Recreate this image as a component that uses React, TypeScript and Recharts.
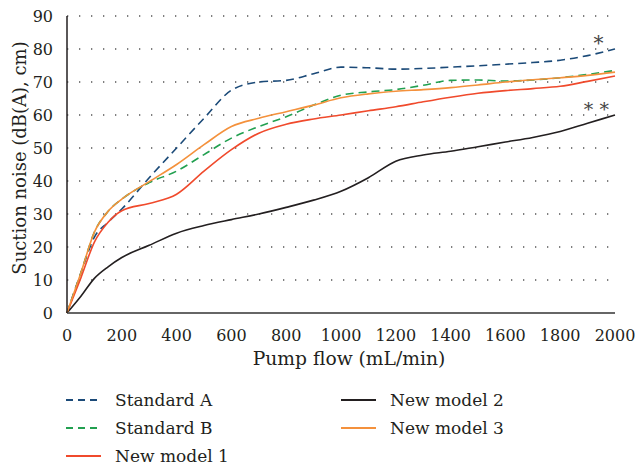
import React from 'react';
import { LineChart, Line, XAxis, YAxis, CartesianGrid, Legend, ReferenceDot } from 'recharts';

const flow = [0, 50, 100, 150, 200, 300, 400, 500, 600, 700, 800, 900, 1000, 1100, 1200, 1300, 1400, 1500, 1600, 1700, 1800, 1900, 2000];
const standardA = [0, 12, 23, 27.5, 31.5, 41, 50, 59, 67.5, 70, 70.5, 72.5, 74.5, 74.3, 73.9, 74.1, 74.5, 74.9, 75.4, 75.9, 76.6, 78, 80];
const standardB = [0, 12, 24.5, 30.8, 34.5, 39.5, 43, 48, 53, 56.5, 59.5, 63, 66, 67, 67.7, 69, 70.5, 70.6, 70.3, 70.6, 71.3, 72.3, 73.5];
const newModel1 = [0, 10.5, 21.5, 27.5, 31, 33.2, 36, 43, 49.5, 54.5, 57.2, 58.8, 60, 61.3, 62.5, 64, 65.4, 66.6, 67.4, 68, 68.7, 70.2, 71.8];
const newModel2 = [0, 5, 10.5, 14, 16.8, 20.5, 24.2, 26.5, 28.3, 30, 32, 34.2, 36.9, 41, 46, 47.9, 49, 50.4, 51.8, 53.2, 55, 57.5, 60];
const newModel3 = [0, 12, 24.5, 30.8, 34.5, 39.8, 45, 51, 56.5, 59, 61, 63, 65.2, 66.4, 67.2, 67.7, 68.3, 69.1, 70, 70.7, 71.3, 72, 73];

const xTicks = [0, 200, 400, 600, 800, 1000, 1200, 1400, 1600, 1800, 2000];
const yTicks = [0, 10, 20, 30, 40, 50, 60, 70, 80, 90];

const data = flow.map((f, i) => ({
  flow: f,
  a: standardA[i],
  b: standardB[i],
  m1: newModel1[i],
  m2: newModel2[i],
  m3: newModel3[i],
}));

const FONT = '"DejaVu Serif", serif';
const TEXT = '#231f20';

const series = [
  { key: 'a', name: 'Standard A', color: '#1b4a78', dash: '8 5', col: 0, row: 0 },
  { key: 'b', name: 'Standard B', color: '#22a050', dash: '8 5', col: 0, row: 1 },
  { key: 'm1', name: 'New model 1', color: '#f04a2c', dash: undefined, col: 0, row: 2 },
  { key: 'm2', name: 'New model 2', color: '#231f20', dash: undefined, col: 1, row: 0 },
  { key: 'm3', name: 'New model 3', color: '#f4913c', dash: undefined, col: 1, row: 1 },
];

const legendColX = [66, 341];
const legendRowY = [24, 52, 80];

const renderLegend = () => (
  <div style={{ position: 'relative', width: 635, height: 90, fontFamily: FONT, fontSize: 17, color: TEXT }}>
    {series.map((s) => (
      <div key={s.key} style={{ position: 'absolute', left: legendColX[s.col], top: legendRowY[s.row] - 13, height: 26, display: 'flex', alignItems: 'center', whiteSpace: 'nowrap' }}>
        <svg width={36} height={10} style={{ marginRight: 13 }}>
          <line x1={0} y1={5} x2={35} y2={5} stroke={s.color} strokeWidth={2} strokeDasharray={s.dash ? '7 5' : undefined} />
        </svg>
        <span>{s.name}</span>
      </div>
    ))}
  </div>
);

const YLabel = () => {
  const cx = 19;
  const cy = 158;
  return (
    <text x={cx} y={cy} transform={`rotate(-90 ${cx} ${cy})`} textAnchor="middle" dominantBaseline="central" fontFamily={FONT} fontSize={18} fill={TEXT}>
      Suction noise (dB(A), cm)
    </text>
  );
};

const XLabel = () => {
  return (
    <text x={349} y={358} textAnchor="middle" dominantBaseline="central" fontFamily={FONT} fontSize={18.7} fill={TEXT}>
      Pump flow (mL/min)
    </text>
  );
};

export default function App() {
  return (
    <div style={{ position: 'absolute', left: 0, top: 0, width: 635, height: 466, background: '#fff', fontFamily: FONT }}>
      <LineChart width={635} height={466} data={data} margin={{ top: 16, right: 20, left: 0, bottom: 0 }}>
        <CartesianGrid vertical={false} horizontalValues={[10, 20, 30, 40, 50, 60, 70, 80, 90]} stroke="#555" strokeWidth={1.3} strokeDasharray="1.3 10.7" strokeDashoffset={-12} />
        <XAxis
          dataKey="flow"
          type="number"
          domain={[0, 2000]}
          ticks={xTicks}
          tickLine={false}
          axisLine={{ stroke: '#666', strokeWidth: 2 }}
          tick={{ fontFamily: FONT, fontSize: 16, fill: TEXT }}
          tickMargin={11}
          height={63}
          label={<XLabel />}
        />
        <YAxis
          type="number"
          domain={[0, 90]}
          ticks={yTicks}
          tickLine={false}
          axisLine={{ stroke: TEXT, strokeWidth: 1.5 }}
          tick={{ fontFamily: FONT, fontSize: 16, fill: TEXT }}
          tickMargin={8}
          width={67}
          interval={0}
          label={<YLabel />}
        />
        <Legend verticalAlign="bottom" content={renderLegend} wrapperStyle={{ left: 0, bottom: 0, width: 635, height: 90 }} />
        {series.map((s) => (
          <Line
            key={s.key}
            dataKey={s.key}
            name={s.name}
            type="monotone"
            stroke={s.color}
            strokeWidth={1.6}
            strokeDasharray={s.dash}
            dot={false}
            activeDot={false}
            isAnimationActive={false}
          />
        ))}
        <ReferenceDot x={1940} y={82} r={0} fill="none" stroke="none" label={{ value: '*', fontFamily: FONT, fontSize: 20, fill: '#444', position: 'center' }} />
        <ReferenceDot x={1932} y={61.8} r={0} fill="none" stroke="none" label={{ value: '* *', fontFamily: FONT, fontSize: 19, fill: '#444', position: 'center' }} />
      </LineChart>
    </div>
  );
}
